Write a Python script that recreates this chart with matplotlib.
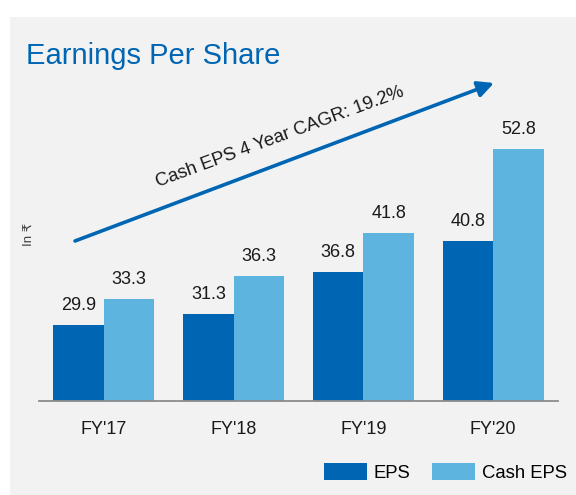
import matplotlib
matplotlib.use('Agg')
import matplotlib.pyplot as plt
from matplotlib.patches import Rectangle
import numpy as np

plt.rcParams['font.family'] = ['Liberation Sans', 'DejaVu Sans']

years = ["FY'17", "FY'18", "FY'19", "FY'20"]
eps = [29.9, 31.3, 36.8, 40.8]
cash_eps = [33.3, 36.3, 41.8, 52.8]
cagr_text = 'Cash EPS 4 Year CAGR: 19.2%'

dark_blue = '#0066B3'
light_blue = '#5DB5DF'

W, H = 576, 495
fig = plt.figure(figsize=(W/100, H/100), dpi=100)
fig.patch.set_facecolor('white')
# grey panel behind everything
panel = Rectangle((10/W, 0), 1 - 10/W, 1 - 17/H, transform=fig.transFigure,
                  facecolor='#F2F2F2', edgecolor='none', zorder=-10)
fig.add_artist(panel)

ax = fig.add_axes([39/W, (H-401)/H, (558-39)/W, (401-93.4)/H])
ax.set_facecolor('none')

x = np.arange(len(years))
width = 0.39
b1 = ax.bar(x - width/2, eps, width, color=dark_blue, label='EPS', zorder=2)
b2 = ax.bar(x + width/2, cash_eps, width, color=light_blue, label='Cash EPS', zorder=2)
ax.bar_label(b1, fmt='%.1f', padding=8, fontsize=13, color='#1a1a1a')
ax.bar_label(b2, fmt='%.1f', padding=8, fontsize=13, color='#1a1a1a')

ax.set_xlim(-0.5, 3.5)
ax.set_ylim(20, 60)
ax.set_xticks(x)
ax.set_xticklabels(years, fontsize=13, color='#1a1a1a')
ax.tick_params(axis='x', length=0, pad=14.5)
ax.set_yticks([])
for s in ['top', 'right', 'left']:
    ax.spines[s].set_visible(False)
ax.spines['bottom'].set_color('#8c8c8c')
ax.spines['bottom'].set_linewidth(1.3)

# title
fig.text(26/W, (H-64)/H, 'Earnings Per Share', fontsize=21, color=dark_blue,
         ha='left', va='baseline')

# unit label
fig.text(29/W, (H-234)/H, 'In ₹', rotation=90, fontsize=9.5, color='#404040',
         ha='center', va='center')

# CAGR arrow
ax.annotate('', xy=(494, H-83), xycoords='figure pixels',
            xytext=(75, H-241), textcoords='figure pixels', annotation_clip=False,
            arrowprops=dict(arrowstyle='-|>', lw=2.6, color=dark_blue,
                            mutation_scale=24, shrinkA=0, shrinkB=0))
fig.text(280/W, (H-137)/H, cagr_text, rotation=20.3, rotation_mode='anchor',
         fontsize=13.3, color='#1a1a1a', ha='center', va='center')

fig.legend(loc='upper left', bbox_to_anchor=(324/W, (H-463)/H), ncol=2, frameon=False,
           fontsize=13.3, handlelength=2.35, handleheight=1.0, handletextpad=0.35,
           columnspacing=1.15, borderpad=0, borderaxespad=0)

fig.savefig('out.png', dpi=100)
